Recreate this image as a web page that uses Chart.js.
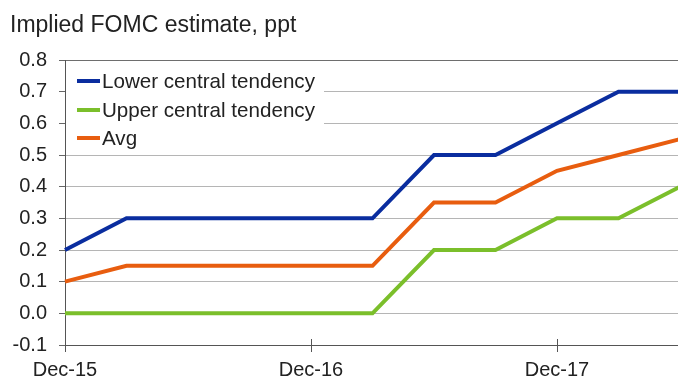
<!DOCTYPE html>
<html>
<head>
<meta charset="utf-8">
<script src="https://cdn.jsdelivr.net/npm/chart.js@4.4.1/dist/chart.umd.min.js"></script>
<style>
  html, body { margin: 0; padding: 0; background: #fff; overflow: hidden; width: 678px; height: 379px; }
  #wrap { position: relative; width: 681px; height: 379px; }
  canvas { display: block; }
</style>
</head>
<body>
<div id="wrap"><canvas id="c" width="681" height="379"></canvas></div>
<script>
// Quarterly path of the implied FOMC estimate, percentage points
const quarters = ['Dec-15','Mar-16','Jun-16','Sep-16','Dec-16','Mar-17','Jun-17','Sep-17','Dec-17','Mar-18','Jun-18'];
const lowerCentral = [0.2, 0.3, 0.3, 0.3, 0.3, 0.3, 0.5, 0.5, 0.6, 0.7, 0.7];
const upperCentral = [0.0, 0.0, 0.0, 0.0, 0.0, 0.0, 0.2, 0.2, 0.3, 0.3, 0.4];
const avgPath      = [0.1, 0.15, 0.15, 0.15, 0.15, 0.15, 0.35, 0.35, 0.45, 0.5, 0.55];
const seriesNames  = ['Lower central tendency', 'Upper central tendency', 'Avg'];
const chartTitle   = 'Implied FOMC estimate, ppt';
const yTicks       = [-0.1, 0.0, 0.1, 0.2, 0.3, 0.4, 0.5, 0.6, 0.7, 0.8];

const BLUE = '#0a2d9f', GREEN = '#7bbf2b', ORANGE = '#e85d0f';
const FONT = "'Liberation Sans', Arial, sans-serif";

// Title drawn above the plot, top-left
const titlePlugin = {
  id: 'topTitle',
  afterDraw(chart) {
    const ctx = chart.ctx;
    ctx.save();
    ctx.font = '23px ' + FONT;
    ctx.fillStyle = '#222';
    ctx.textBaseline = 'alphabetic';
    ctx.textAlign = 'left';
    ctx.fillText(chartTitle, 10, 32);
    ctx.restore();
  }
};

// Legend box sitting inside the plot's top-left corner
const insetLegend = {
  id: 'insetLegend',
  beforeDatasetsDraw(chart) {
    const ctx = chart.ctx;
    const a = chart.chartArea;
    ctx.save();
    ctx.fillStyle = '#fff';
    ctx.fillRect(a.left + 1, a.top + 1, 258, 88);
    ctx.font = '20.6px ' + FONT;
    ctx.textBaseline = 'middle';
    ctx.textAlign = 'left';
    const rows = [a.top + 21, a.top + 50, a.top + 78];
    chart.data.datasets.forEach((ds, i) => {
      const y = rows[i];
      ctx.strokeStyle = ds.borderColor;
      ctx.lineWidth = 4;
      ctx.lineCap = 'butt';
      ctx.beginPath();
      ctx.moveTo(a.left + 12, y);
      ctx.lineTo(a.left + 35, y);
      ctx.stroke();
      ctx.fillStyle = '#222';
      ctx.fillText(ds.label, a.left + 37, y + 1);
    });
    ctx.restore();
  }
};

// Year tick marks crossing the category axis
const yearTicks = {
  id: 'yearTicks',
  afterDatasetsDraw(chart) {
    const ctx = chart.ctx;
    const x = chart.scales.x;
    const bottom = chart.chartArea.bottom;
    ctx.save();
    ctx.strokeStyle = '#555';
    ctx.lineWidth = 1;
    quarters.forEach((q, i) => {
      if (!q.startsWith('Dec')) return;
      const px = Math.round(x.getPixelForValue(i)) + 0.5;
      ctx.beginPath();
      ctx.moveTo(px, bottom - 6);
      ctx.lineTo(px, bottom + 7);
      ctx.stroke();
    });
    ctx.restore();
  }
};

new Chart(document.getElementById('c'), {
  type: 'line',
  data: {
    labels: quarters,
    datasets: [
      { label: seriesNames[0], data: lowerCentral, borderColor: BLUE,   backgroundColor: BLUE },
      { label: seriesNames[1], data: upperCentral, borderColor: GREEN,  backgroundColor: GREEN },
      { label: seriesNames[2], data: avgPath,      borderColor: ORANGE, backgroundColor: ORANGE }
    ]
  },
  options: {
    responsive: false,
    animation: false,
    devicePixelRatio: 1,
    layout: { padding: { top: 60, left: 0, right: 1, bottom: 0 } },
    elements: {
      line: { borderWidth: 4, tension: 0, borderCapStyle: 'butt', borderJoinStyle: 'miter' },
      point: { radius: 0, hoverRadius: 0 }
    },
    plugins: {
      legend: { display: false },
      title: { display: false },
      tooltip: { enabled: false }
    },
    scales: {
      x: {
        type: 'category',
        offset: false,
        afterFit(scale) {
          scale.height = 34;
          scale.paddingLeft = 0;
          scale.paddingRight = 0;
        },
        grid: { display: true, drawOnChartArea: false, drawTicks: false },
        border: { display: true, color: '#555', width: 1 },
        ticks: {
          autoSkip: false,
          maxRotation: 0,
          padding: 13,
          color: '#222',
          font: { family: FONT, size: 20 },
          callback(v, i) { return quarters[i].startsWith('Dec') ? quarters[i] : ''; }
        }
      },
      y: {
        min: -0.1,
        max: 0.8,
        afterFit(scale) {
          scale.width = 65;
          scale.paddingTop = 0;
          scale.paddingBottom = 0;
        },
        afterBuildTicks(scale) { scale.ticks = yTicks.map(v => ({ value: v })); },
        grid: {
          drawTicks: true,
          tickLength: 6,
          tickColor: '#666',
          color(ctx) {
            const v = ctx.tick ? ctx.tick.value : 0;
            if (Math.abs(v - 0.8) < 1e-6) return '#6e6e6e';
            return '#b5b5b5';
          },
          lineWidth: 1
        },
        border: { display: true, color: '#555', width: 1 },
        ticks: {
          padding: 12,
          color: '#222',
          font: { family: FONT, size: 20 },
          callback(v) { return Number(v).toFixed(1); }
        }
      }
    }
  },
  plugins: [insetLegend, yearTicks, titlePlugin]
});
</script>
</body>
</html>
